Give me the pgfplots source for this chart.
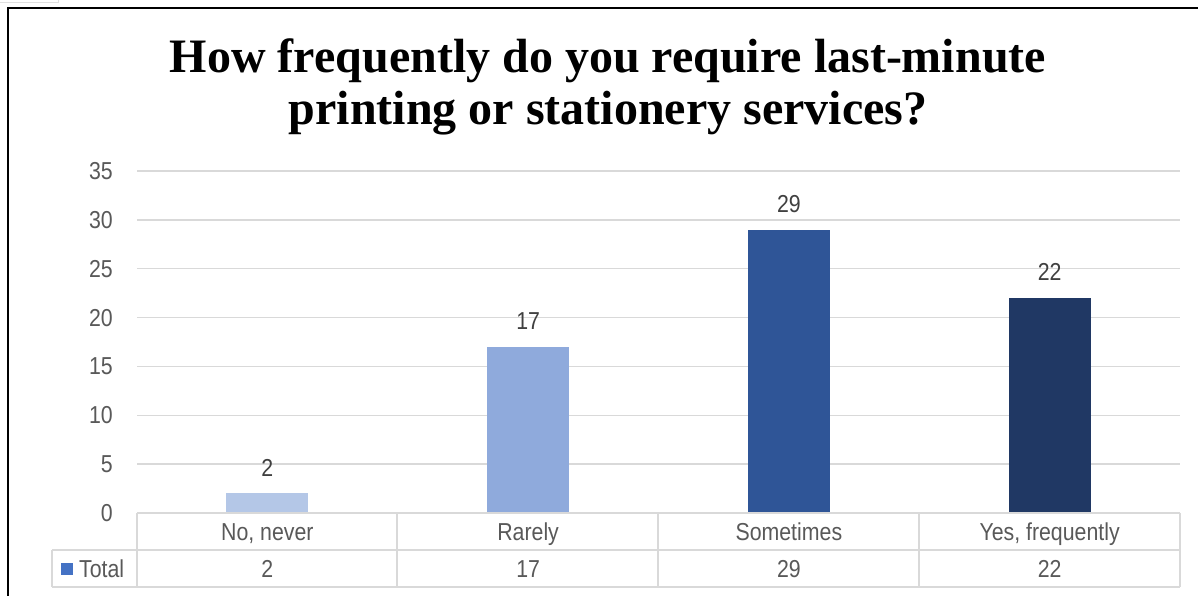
\documentclass[border=0pt]{standalone}
\usepackage{pgfplots}
\pgfplotsset{compat=1.18}
\usepackage{fontspec}
\setmainfont{Liberation Serif}
\newfontfamily\narrow[FakeStretch=0.87]{Liberation Sans}
\definecolor{txt}{HTML}{595959}
\definecolor{val}{HTML}{404040}
\definecolor{gridc}{HTML}{D9D9D9}
\definecolor{cA}{HTML}{B4C7E7}
\definecolor{cB}{HTML}{8FAADC}
\definecolor{cC}{HTML}{2F5597}
\definecolor{cD}{HTML}{203864}
\definecolor{leg}{HTML}{4472C4}
\begin{document}
\begin{tikzpicture}[x=1pt,y=1pt]
\useasboundingbox (0,0) rectangle (1198,596);
\fill[white] (0,0) rectangle (1198,596);
\begin{axis}[
  at={(137pt,83pt)}, anchor=south west,
  scale only axis, width=1043pt, height=342pt,
  xmin=-0.5, xmax=3.5, ymin=0, ymax=35,
  enlargelimits=false,
  /pgf/number format/assume math mode=true,
  ytick={0,5,...,35},
  xtick={0,1,2,3},
  xticklabels={{No, never\\2},{Rarely\\17},{Sometimes\\29},{Yes, frequently\\22}},
  axis line style={draw=none},
  tick style={draw=none},
  ymajorgrids,
  grid style={gridc, line width=1.3pt},
  yticklabel style={font=\narrow\fontsize{24.5}{24.5}\selectfont, text=txt, inner sep=0pt, anchor=east, xshift=-24pt},
  xticklabel style={font=\narrow\fontsize{24.5}{37}\selectfont, text=txt, inner sep=0pt, anchor=north, align=center, yshift=-10pt},
  every node near coord/.append style={font=\narrow\fontsize{24.5}{24.5}\selectfont, text=val, inner sep=0pt, yshift=17pt},
  legend style={at={(axis description cs:-0.0729,-0.1637)}, anchor=west, draw=none, fill=none,
     font=\narrow\fontsize{24.5}{24.5}\selectfont, text=txt, inner sep=0pt,
     nodes={inner sep=0pt}},
  legend image code/.code={\fill[#1] (0pt,-6pt) rectangle (12pt,6pt);},
  legend cell align=left,
  /tikz/every odd column/.append style={column sep=6pt},
]
\addplot[ybar, bar width=82pt, bar shift=0pt, fill=cA, draw=none, nodes near coords, forget plot] coordinates {(0,2)};
\addplot[ybar, bar width=82pt, bar shift=0pt, fill=cB, draw=none, nodes near coords, forget plot] coordinates {(1,17)};
\addplot[ybar, bar width=82pt, bar shift=0pt, fill=cC, draw=none, nodes near coords, forget plot] coordinates {(2,29)};
\addplot[ybar, bar width=82pt, bar shift=0pt, fill=cD, draw=none, nodes near coords, forget plot] coordinates {(3,22)};
\addlegendimage{fill=leg, draw=none}
\addlegendentry{Total}
\end{axis}
% data table grid
\begin{scope}[gridc, line width=1.3pt]
\draw (137,83) -- (1180,83);
\draw (52,46) -- (1180,46);
\draw (52,9) -- (1180,9);
\draw (52,46) -- (52,9);
\foreach \xx in {137,397,658,919,1180} \draw (\xx,83) -- (\xx,9);
\end{scope}
% title
\node[anchor=base, font=\bfseries\fontsize{48}{52}\selectfont] at (608,523) {How frequently do you require last-minute};
\node[anchor=base, font=\bfseries\fontsize{48}{52}\selectfont] at (608,471) {printing or stationery services?};
% frame
\draw[black, line width=2pt] (7.5,-5) -- (7.5,588) -- (1210,588);
\draw[black!12, line width=1pt] (-1,593.5) -- (58,593.5) -- (58,600);
\end{tikzpicture}
\end{document}
